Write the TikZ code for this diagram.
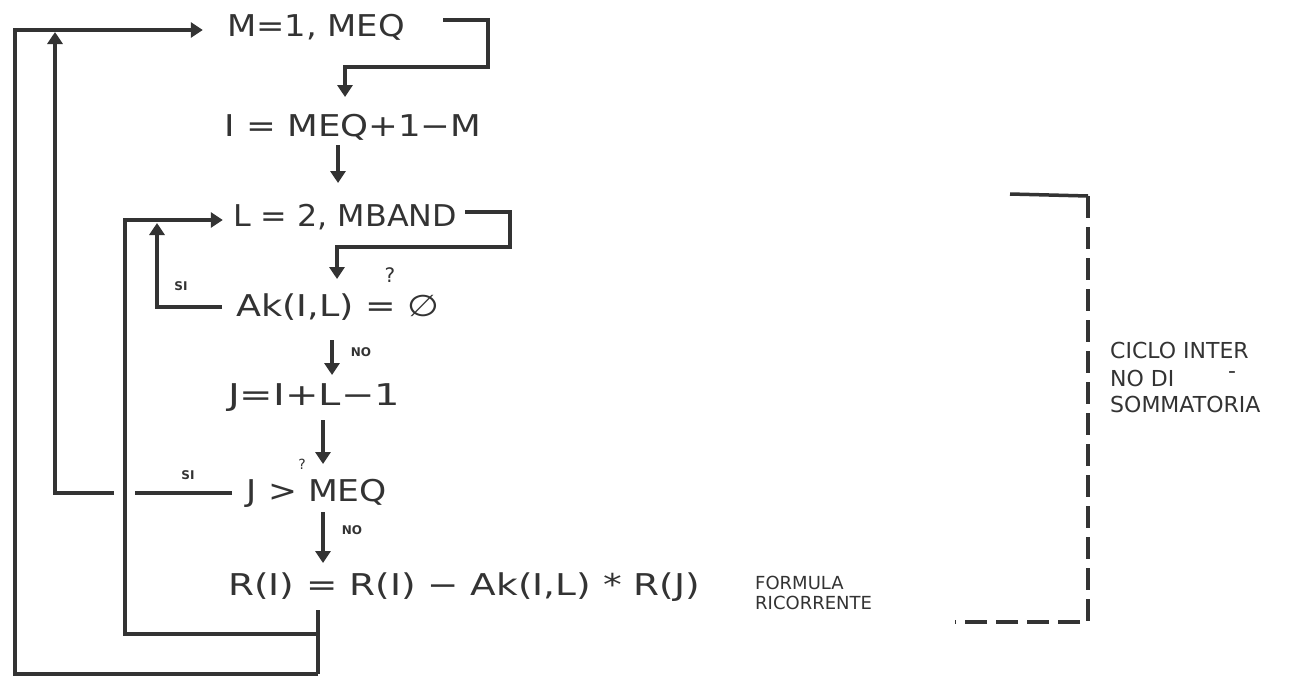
\documentclass[tikz,border=0pt]{standalone}
\usepackage{fontspec}
\usepackage{graphicx}
\setmainfont{DejaVu Sans}
\usetikzlibrary{arrows.meta}
\definecolor{ink}{HTML}{333333}
\newcommand{\fitw}[2]{\resizebox{#1}{\height}{#2}}
\tikzset{
  x=1pt,y=-1pt,
  ink line/.style={draw=ink,line width=4.5pt,line join=miter},
  arr/.style={ink line,-{Triangle[width=15pt,length=12pt]}},
  stmt/.style={inner sep=0pt,text=ink,font=\fontsize{30}{32}\selectfont},
  tag/.style={inner sep=0pt,text=ink,font=\fontsize{12}{14}\selectfont\bfseries},
  note/.style={inner sep=0pt,text=ink,anchor=west,font=\fontsize{22}{25}\selectfont},
  dashline/.style={draw=ink,line width=4pt,dash pattern=on 22pt off 9pt}
}
\begin{document}
\begin{tikzpicture}
\useasboundingbox (0,0) rectangle (1313,680);
% statements
\node[stmt] (m1) at (316,27) {\fitw{178pt}{M=1, MEQ}};
\node[stmt] (eqI) at (353,127) {\fitw{257pt}{I = MEQ+1−M}};
\node[stmt] (l2) at (345,217) {\fitw{224pt}{L = 2, MBAND}};
\node[stmt] (ak) at (338,307) {\fitw{203pt}{Ak(I,L) = ∅}};
\node[stmt,font=\fontsize{20}{22}\selectfont] (q1) at (390,275) {?};
\node[stmt] (jj) at (314,398) {\fitw{172pt}{J=I+L−1}};
\node[stmt] (jg) at (317,493) {\fitw{140pt}{J > MEQ}};
\node[stmt,font=\fontsize{14}{16}\selectfont] (q2) at (302,464) {?};
\node[stmt] (rr) at (464,587) {\fitw{472pt}{R(I) = R(I) − Ak(I,L) * R(J)}};
% helper coordinates
\coordinate (m1out) at (443,20);
\coordinate (lout) at (465,212);
\coordinate (rbot) at (318,610);
\coordinate (jn) at (318,634);
\coordinate (bot) at (318,674);
% M loop bracket
\draw[arr] (m1out) -- (488,20) -- (488,67) -- (345,67) -- (345,97);
\draw[arr] (338,145) -- (338,183);
% L loop bracket
\draw[arr] (lout) -- (510,212) -- (510,247) -- (337,247) -- (337,279);
% Ak = 0 -> SI
\draw[arr] (222,307) -- (157,307) -- (157,223);
\node[tag] (si1) at (181,286) {SI};
% Ak -> J
\draw[arr] (332,340) -- (332,375);
\node[tag] (no1) at (361,352) {NO};
\draw[arr] (323,420) -- (323,464);
% J > MEQ -> SI
\coordinate (g1) at (135,493);
\coordinate (g2) at (114,493);
\draw[ink line] (232,493) -- (g1);
\node[tag] (si2) at (188,475) {SI};
\draw[arr] (g2) -- (55,493) -- (55,32);
% J -> R
\draw[arr] (323,512) -- (323,563);
\node[tag] (no2) at (352,530) {NO};
% back loops
\draw[ink line] (rbot) -- (bot);
\draw[arr] (jn) -- (125,634) -- (125,220) -- ([xshift=-10pt]l2.west |- 0,220);
\draw[arr] (bot) -- (15,674) -- (15,30) -- ([xshift=-24pt]m1.west |- 0,30);
% annotation
\draw[draw=ink,line width=3.5pt] (1010,194) -- (1088,196);
\draw[dashline] (1088,196) -- (1088,622) -- (955,622);
\node[note] (c1) at (1110,350) {CICLO INTER};
\node[note] (c2) at (1110,378) {NO DI};
\node[note] (c3) at (1110,404) {SOMMATORIA};
\node[note,anchor=base,text height=8pt,text depth=0pt] (hy) at (1232,378) {-};
\node[note,font=\fontsize{18}{21}\selectfont] (f1) at (755,583) {FORMULA};
\node[note,font=\fontsize{18}{21}\selectfont] (f2) at (755,603) {RICORRENTE};
\end{tikzpicture}
\end{document}
